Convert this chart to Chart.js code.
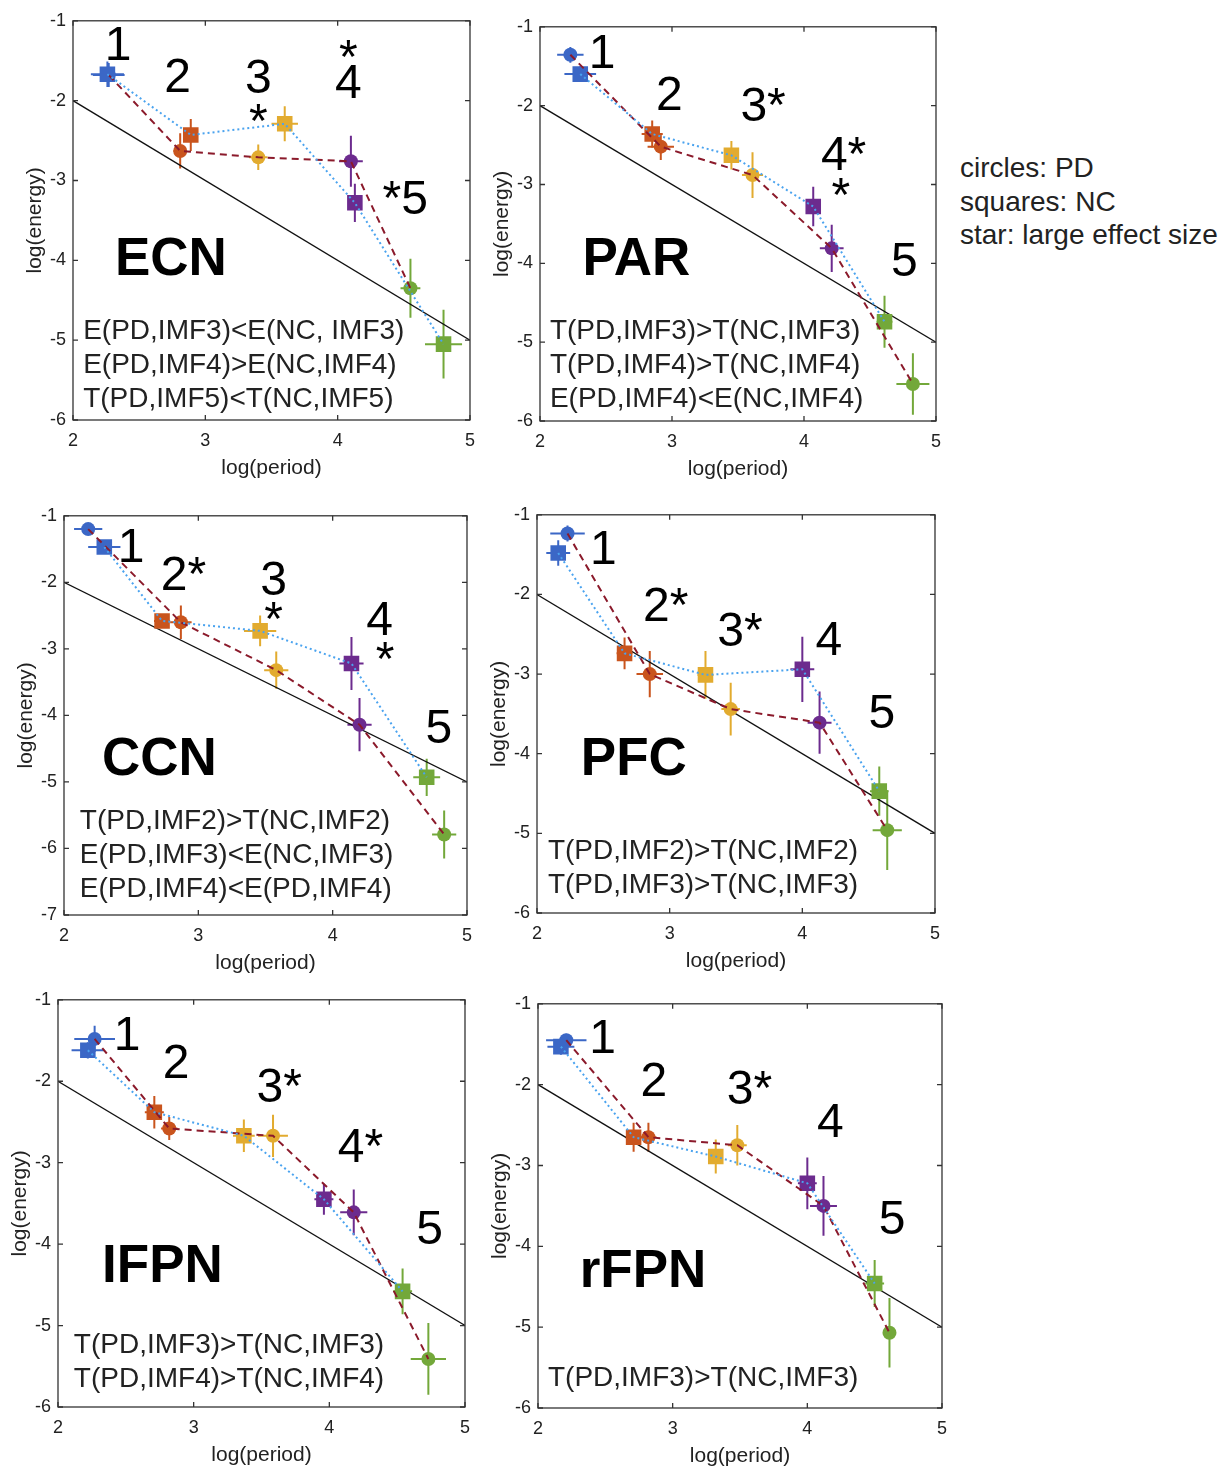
<!DOCTYPE html>
<html>
<head>
<meta charset="utf-8">
<script src="https://cdn.jsdelivr.net/npm/chart.js@4/dist/chart.umd.min.js"></script>
<style>
  html, body { margin: 0; padding: 0; background: #fff; }
  body { width: 1228px; height: 1472px; position: relative; overflow: hidden;
         font-family: "Liberation Sans", Arial, sans-serif; }
  .panel { position: absolute; }
  .panel canvas { display: block; }
  #key { position: absolute; left: 960px; top: 151px; font-size: 28px; line-height: 33.5px; color: #222; }
</style>
</head>
<body>
<div id="key">circles: PD<br>squares: NC<br>star: large effect size</div>
<script>
// Colours of the five intrinsic mode functions, IMF1..IMF5
const imfColors = ['#3b67c6', '#c9541d', '#e2ab2f', '#6c2b8e', '#73a83a'];

// Reference line log(energy) = -log(period)
const refPeriod = [2, 5];
const refEnergy = [-2, -5];

const xTicks = [2, 3, 4, 5];

// ---------- ECN ----------
const ecnPdPeriod    = [2.27, 2.81, 3.40, 4.10, 4.55];
const ecnPdEnergy    = [-1.68, -2.63, -2.71, -2.76, -4.35];
const ecnPdPeriodErr = [0.12, 0.05, 0.07, 0.09, 0.075];
const ecnPdEnergyErr = [0.15, 0.22, 0.16, 0.32, 0.37];
const ecnNcPeriod    = [2.26, 2.89, 3.60, 4.13, 4.80];
const ecnNcEnergy    = [-1.67, -2.43, -2.29, -3.28, -5.05];
const ecnNcPeriodErr = [0.125, 0.05, 0.10, 0.05, 0.14];
const ecnNcEnergyErr = [0.16, 0.20, 0.22, 0.24, 0.43];
const ecnMarks = ['1', '2', '3', '*', '*', '4', '*5'];
const ecnNotes = ['E(PD,IMF3)<E(NC, IMF3)', 'E(PD,IMF4)>E(NC,IMF4)', 'T(PD,IMF5)<T(NC,IMF5)'];

// ---------- PAR ----------
const parPdPeriod    = [2.23, 2.915, 3.61, 4.21, 4.825];
const parPdEnergy    = [-1.355, -2.52, -2.88, -3.81, -5.53];
const parPdPeriodErr = [0.10, 0.10, 0.08, 0.09, 0.125];
const parPdEnergyErr = [0.10, 0.17, 0.29, 0.30, 0.39];
const parNcPeriod    = [2.305, 2.85, 3.45, 4.07, 4.61];
const parNcEnergy    = [-1.60, -2.36, -2.63, -3.28, -4.74];
const parNcPeriodErr = [0.12, 0.08, 0.05, 0.05, 0.06];
const parNcEnergyErr = [0.10, 0.17, 0.18, 0.25, 0.33];
const parMarks = ['1', '2', '3*', '4*', '*', '5'];
const parNotes = ['T(PD,IMF3)>T(NC,IMF3)', 'T(PD,IMF4)>T(NC,IMF4)', 'E(PD,IMF4)<E(NC,IMF4)'];

// ---------- CCN ----------
const ccnPdPeriod    = [2.18, 2.87, 3.58, 4.20, 4.83];
const ccnPdEnergy    = [-1.20, -2.60, -3.32, -4.14, -5.79];
const ccnPdPeriodErr = [0.105, 0.08, 0.09, 0.09, 0.09];
const ccnPdEnergyErr = [0.05, 0.25, 0.28, 0.40, 0.36];
const ccnNcPeriod    = [2.30, 2.73, 3.46, 4.14, 4.70];
const ccnNcEnergy    = [-1.47, -2.58, -2.73, -3.22, -4.93];
const ccnNcPeriodErr = [0.12, 0.06, 0.12, 0.09, 0.10];
const ccnNcEnergyErr = [0.08, 0.10, 0.23, 0.40, 0.28];
const ccnMarks = ['1', '2*', '3', '*', '4', '*', '5'];
const ccnNotes = ['T(PD,IMF2)>T(NC,IMF2)', 'E(PD,IMF3)<E(NC,IMF3)', 'E(PD,IMF4)<E(PD,IMF4)'];

// ---------- PFC ----------
const pfcPdPeriod    = [2.23, 2.85, 3.46, 4.13, 4.64];
const pfcPdEnergy    = [-1.235, -3.00, -3.44, -3.61, -4.96];
const pfcPdPeriodErr = [0.13, 0.10, 0.07, 0.09, 0.11];
const pfcPdEnergyErr = [0.10, 0.29, 0.33, 0.39, 0.50];
const pfcNcPeriod    = [2.16, 2.66, 3.27, 4.00, 4.58];
const pfcNcEnergy    = [-1.48, -2.74, -3.01, -2.94, -4.47];
const pfcNcPeriodErr = [0.09, 0.06, 0.06, 0.09, 0.07];
const pfcNcEnergyErr = [0.16, 0.20, 0.30, 0.41, 0.31];
const pfcMarks = ['1', '2*', '3*', '4', '5'];
const pfcNotes = ['T(PD,IMF2)>T(NC,IMF2)', 'T(PD,IMF3)>T(NC,IMF3)'];

// ---------- IFPN ----------
const ifpnPdPeriod    = [2.27, 2.82, 3.585, 4.18, 4.73];
const ifpnPdEnergy    = [-1.48, -2.58, -2.67, -3.61, -5.41];
const ifpnPdPeriodErr = [0.15, 0.06, 0.11, 0.10, 0.13];
const ifpnPdEnergyErr = [0.16, 0.14, 0.26, 0.28, 0.44];
const ifpnNcPeriod    = [2.22, 2.71, 3.37, 3.96, 4.54];
const ifpnNcEnergy    = [-1.62, -2.38, -2.67, -3.45, -4.58];
const ifpnNcPeriodErr = [0.12, 0.07, 0.08, 0.07, 0.07];
const ifpnNcEnergyErr = [0.10, 0.20, 0.20, 0.19, 0.28];
const ifpnMarks = ['1', '2', '3*', '4*', '5'];
const ifpnNotes = ['T(PD,IMF3)>T(NC,IMF3)', 'T(PD,IMF4)>T(NC,IMF4)'];

// ---------- rFPN ----------
const rfpnPdPeriod    = [2.21, 2.82, 3.48, 4.12, 4.61];
const rfpnPdEnergy    = [-1.45, -2.65, -2.75, -3.50, -5.07];
const rfpnPdPeriodErr = [0.15, 0.06, 0.07, 0.10, 0.04];
const rfpnPdEnergyErr = [0.08, 0.18, 0.25, 0.37, 0.43];
const rfpnNcPeriod    = [2.17, 2.71, 3.32, 4.00, 4.50];
const rfpnNcEnergy    = [-1.53, -2.65, -2.89, -3.22, -4.46];
const rfpnNcPeriodErr = [0.10, 0.06, 0.05, 0.07, 0.07];
const rfpnNcEnergyErr = [0.10, 0.18, 0.21, 0.32, 0.29];
const rfpnMarks = ['1', '2', '3*', '4', '5'];
const rfpnNotes = ['T(PD,IMF3)>T(NC,IMF3)'];

// Panel layout: page box of each plot area, y range and where text sits (data units)
const panels = [
  { name: 'ECN', box: [73, 15, 473, 420], yMin: -6,
    pd: [ecnPdPeriod, ecnPdEnergy, ecnPdPeriodErr, ecnPdEnergyErr],
    nc: [ecnNcPeriod, ecnNcEnergy, ecnNcPeriodErr, ecnNcEnergyErr],
    marks: ecnMarks, notes: ecnNotes,
    markAt: [[2.34, -1.33], [2.79, -1.72], [3.40, -1.74], [3.40, -2.29], [4.08, -1.49], [4.08, -1.80], [4.51, -3.26]],
    nameAt: [2.74, -4.0], noteAt: [2.077, -4.89] },
  { name: 'PAR', box: [540, 21, 939, 421], yMin: -6,
    pd: [parPdPeriod, parPdEnergy, parPdPeriodErr, parPdEnergyErr],
    nc: [parNcPeriod, parNcEnergy, parNcPeriodErr, parNcEnergyErr],
    marks: parMarks, notes: parNotes,
    markAt: [[2.47, -1.36], [2.98, -1.89], [3.69, -2.03], [4.30, -2.65], [4.28, -3.17], [4.76, -3.99]],
    nameAt: [2.73, -3.96], noteAt: [2.075, -4.86] },
  { name: 'CCN', box: [64, 510, 470, 915], yMin: -7,
    pd: [ccnPdPeriod, ccnPdEnergy, ccnPdPeriodErr, ccnPdEnergyErr],
    nc: [ccnNcPeriod, ccnNcEnergy, ccnNcPeriodErr, ccnNcEnergyErr],
    marks: ccnMarks, notes: ccnNotes,
    markAt: [[2.50, -1.49], [2.89, -1.91], [3.56, -1.99], [3.56, -2.60], [4.35, -2.60], [4.39, -3.20], [4.79, -4.21]],
    nameAt: [2.71, -4.68], noteAt: [2.118, -5.59] },
  { name: 'PFC', box: [537, 509, 938, 913], yMin: -6,
    pd: [pfcPdPeriod, pfcPdEnergy, pfcPdPeriodErr, pfcPdEnergyErr],
    nc: [pfcNcPeriod, pfcNcEnergy, pfcNcPeriodErr, pfcNcEnergyErr],
    marks: pfcMarks, notes: pfcNotes,
    markAt: [[2.50, -1.45], [2.97, -2.17], [3.53, -2.48], [4.20, -2.60], [4.60, -3.51]],
    nameAt: [2.73, -4.09], noteAt: [2.082, -5.22] },
  { name: 'IFPN', box: [58, 994, 468, 1407], yMin: -6,
    pd: [ifpnPdPeriod, ifpnPdEnergy, ifpnPdPeriodErr, ifpnPdEnergyErr],
    nc: [ifpnNcPeriod, ifpnNcEnergy, ifpnNcPeriodErr, ifpnNcEnergyErr],
    marks: ifpnMarks, notes: ifpnNotes,
    markAt: [[2.51, -1.45], [2.87, -1.80], [3.63, -2.09], [4.23, -2.83], [4.74, -3.83]],
    nameAt: [2.77, -4.28], noteAt: [2.117, -5.24] },
  { name: 'rFPN', box: [538, 998, 945, 1408], yMin: -6,
    pd: [rfpnPdPeriod, rfpnPdEnergy, rfpnPdPeriodErr, rfpnPdEnergyErr],
    nc: [rfpnNcPeriod, rfpnNcEnergy, rfpnNcPeriodErr, rfpnNcEnergyErr],
    marks: rfpnMarks, notes: rfpnNotes,
    markAt: [[2.48, -1.45], [2.86, -1.98], [3.57, -2.08], [4.17, -2.49], [4.63, -3.69]],
    nameAt: [2.78, -4.32], noteAt: [2.074, -5.63] }
];

const FONT = '"Liberation Sans", Arial, Helvetica, sans-serif';
const INK = '#222';
const toPoints = (xs, ys) => xs.map((x, i) => ({ x: x, y: ys[i] }));

// Box with inward ticks on all four sides
const framePlugin = {
  id: 'frame',
  afterDraw(chart) {
    const { ctx, chartArea: a, scales: { x, y } } = chart;
    ctx.save();
    ctx.strokeStyle = '#333';
    ctx.lineWidth = 1.3;
    ctx.strokeRect(a.left, a.top, a.right - a.left, a.bottom - a.top);
    const t = 5;
    ctx.beginPath();
    x.ticks.forEach(tk => {
      const px = x.getPixelForValue(tk.value);
      ctx.moveTo(px, a.bottom); ctx.lineTo(px, a.bottom - t);
      ctx.moveTo(px, a.top); ctx.lineTo(px, a.top + t);
    });
    y.ticks.forEach(tk => {
      const py = y.getPixelForValue(tk.value);
      ctx.moveTo(a.left, py); ctx.lineTo(a.left + t, py);
      ctx.moveTo(a.right, py); ctx.lineTo(a.right - t, py);
    });
    ctx.stroke();
    ctx.restore();
  }
};

// Horizontal and vertical error bars behind the markers
const errorBarPlugin = {
  id: 'errorBars',
  beforeDatasetsDraw(chart) {
    const { ctx, scales: { x, y } } = chart;
    ctx.save();
    ctx.lineWidth = 2;
    chart.data.datasets.forEach(ds => {
      if (!ds.errX) return;
      ds.data.forEach((pt, i) => {
        ctx.strokeStyle = imfColors[i];
        const cx = x.getPixelForValue(pt.x), cy = y.getPixelForValue(pt.y);
        ctx.beginPath();
        ctx.moveTo(x.getPixelForValue(pt.x - ds.errX[i]), cy);
        ctx.lineTo(x.getPixelForValue(pt.x + ds.errX[i]), cy);
        ctx.moveTo(cx, y.getPixelForValue(pt.y - ds.errY[i]));
        ctx.lineTo(cx, y.getPixelForValue(pt.y + ds.errY[i]));
        ctx.stroke();
      });
    });
    ctx.restore();
  }
};

// IMF numbers, stars, region name and test results
const textPlugin = {
  id: 'panelText',
  afterDatasetsDraw(chart) {
    const p = chart.options.plugins.panelText;
    const { ctx, scales: { x, y } } = chart;
    ctx.save();
    ctx.fillStyle = '#000';
    ctx.textAlign = 'center';
    ctx.textBaseline = 'middle';
    ctx.font = '48px ' + FONT;
    p.marks.forEach((m, i) => {
      ctx.fillText(m, x.getPixelForValue(p.markAt[i][0]), y.getPixelForValue(p.markAt[i][1]));
    });
    ctx.font = 'bold 53px ' + FONT;
    ctx.fillText(p.name, x.getPixelForValue(p.nameAt[0]), y.getPixelForValue(p.nameAt[1]));
    ctx.fillStyle = INK;
    ctx.textAlign = 'left';
    ctx.font = '28px ' + FONT;
    const nx = x.getPixelForValue(p.noteAt[0]);
    const ny = y.getPixelForValue(p.noteAt[1]);
    p.notes.forEach((n, i) => ctx.fillText(n, nx, ny + i * 34));
    ctx.restore();
  }
};

function makePanel(p) {
  const [L, T, R, B] = p.box;
  const yAxisW = 72, padT = 12, padR = 12, xAxisH = 62;
  const w = (R - L) + yAxisW + padR;
  const h = (B - T) + padT + xAxisH;
  const wrap = document.createElement('div');
  wrap.className = 'panel';
  wrap.style.left = (L - yAxisW) + 'px';
  wrap.style.top = (T - padT) + 'px';
  const canvas = document.createElement('canvas');
  canvas.width = w; canvas.height = h;
  canvas.style.width = w + 'px'; canvas.style.height = h + 'px';
  wrap.appendChild(canvas);
  document.body.appendChild(wrap);

  const [pdX, pdY, pdXe, pdYe] = p.pd;
  const [ncX, ncY, ncXe, ncYe] = p.nc;
  const yTicks = [];
  for (let v = -1; v >= p.yMin; v--) yTicks.push(v);

  new Chart(canvas, {
    type: 'scatter',
    data: {
      datasets: [
        { label: 'reference', data: toPoints(refPeriod, refEnergy), showLine: true,
          borderColor: '#111', borderWidth: 1.3, pointRadius: 0, order: 6 },
        { label: 'PD', data: toPoints(pdX, pdY), errX: pdXe, errY: pdYe,
          pointStyle: 'circle', pointRadius: 7, pointBorderWidth: 0,
          pointBackgroundColor: imfColors, borderColor: imfColors, order: 4 },
        { label: 'NC', data: toPoints(ncX, ncY), errX: ncXe, errY: ncYe,
          pointStyle: 'rect', pointRadius: 11, pointBorderWidth: 0,
          pointBackgroundColor: imfColors, borderColor: imfColors, order: 3 },
        { label: 'PD trend', data: toPoints(pdX, pdY), showLine: true,
          borderColor: '#8b1a2b', borderWidth: 2, borderDash: [7, 5], pointRadius: 0, order: 2 },
        { label: 'NC trend', data: toPoints(ncX, ncY), showLine: true,
          borderColor: '#4aa3ef', borderWidth: 2, borderDash: [2, 3], pointRadius: 0, order: 1 }
      ]
    },
    options: {
      responsive: false,
      animation: false,
      events: [],
      layout: { padding: { left: 0, top: padT, right: padR, bottom: 0 } },
      plugins: {
        legend: { display: false },
        tooltip: { enabled: false },
        panelText: { marks: p.marks, markAt: p.markAt, name: p.name, nameAt: p.nameAt,
                     notes: p.notes, noteAt: p.noteAt }
      },
      scales: {
        x: {
          type: 'linear', min: 2, max: 5,
          afterBuildTicks: s => { s.ticks = xTicks.map(v => ({ value: v })); },
          afterFit: s => { s.height = xAxisH; },
          grid: { display: false, drawTicks: false },
          border: { display: false },
          ticks: { padding: 10, color: INK, font: { family: FONT, size: 18 } },
          title: { display: true, text: 'log(period)', color: INK,
                   font: { family: FONT, size: 21 }, padding: { top: 0, bottom: 1.5 } }
        },
        y: {
          type: 'linear', min: p.yMin, max: -1,
          afterBuildTicks: s => { s.ticks = yTicks.map(v => ({ value: v })); },
          afterFit: s => { s.width = yAxisW; },
          grid: { display: false, drawTicks: false },
          border: { display: false },
          ticks: { padding: 7, color: INK, font: { family: FONT, size: 18 } },
          title: { display: true, text: 'log(energy)', color: INK,
                   font: { family: FONT, size: 21 }, padding: { top: 22, bottom: 0 } }
        }
      }
    },
    plugins: [errorBarPlugin, textPlugin, framePlugin]
  });
}

panels.forEach(makePanel);
</script>
</body>
</html>
